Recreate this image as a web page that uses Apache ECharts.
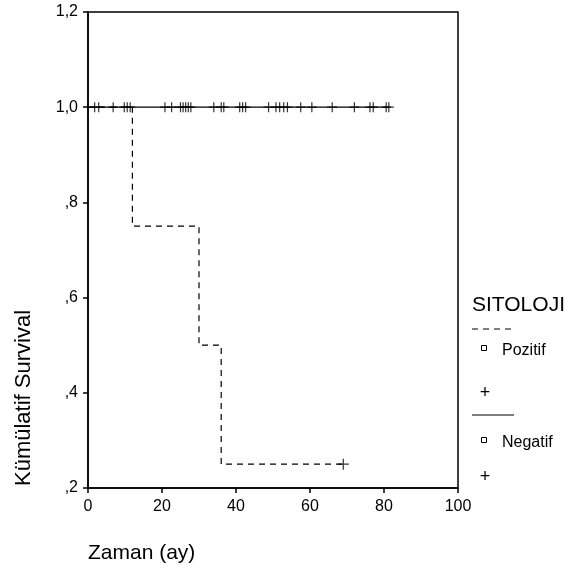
<!DOCTYPE html>
<html><head><meta charset="utf-8">
<script src="https://cdn.jsdelivr.net/npm/echarts@6/dist/echarts.min.js"></script>
<style>html,body{margin:0;padding:0;background:#fff}#c{width:581px;height:576px}</style>
</head><body><div id="c"></div>
<script>
const xTicks = [0, 20, 40, 60, 80, 100];
const yTicks = [0.2, 0.4, 0.6, 0.8, 1.0, 1.2];
const yTickLabels = [',2', ',4', ',6', ',8', '1,0', '1,2'];
// Pozitif: Kaplan-Meier step curve
const pozTimes = [0, 12, 30, 36, 69];
const pozSurv = [1, 0.75, 0.5, 0.25, 0.25];
const pozCensorTimes = [69];
const pozCensorSurv = [0.25];
// Negatif: no events
const negTimes = [0, 81.3];
const negSurv = [1, 1];
const negCensorTimes = [1.8, 2.9, 6.8, 9.8, 10.6, 11.4, 20.8, 22.6, 25.0, 25.7, 26.4, 27.1, 27.8,
  34.0, 36.0, 36.7, 41.0, 41.8, 42.6, 48.8, 50.8, 51.8, 52.9, 53.9, 57.5, 60.5, 66.0, 72.0, 76.2, 77.1, 80.6, 81.3];
const legendTitle = 'SITOLOJI';
const groupNames = ['Pozitif', 'Negatif'];

const FONT = 'Liberation Sans, Arial, Helvetica, sans-serif';
const plus = 'path://M5,0L5,10M0,5L10,5';
const chart = echarts.init(document.getElementById('c'), null, {renderer: 'canvas'});
const zip = (a, b) => a.map((v, i) => [v, b[i]]);
const L = 472, R = 514;
chart.setOption({
  animation: false,
  backgroundColor: '#fff',
  grid: {left: 88, top: 12, right: 123, bottom: 88, show: true, borderColor: '#000', borderWidth: 1.5, backgroundColor: 'transparent'},
  xAxis: {
    type: 'value', min: xTicks[0], max: xTicks[xTicks.length - 1], interval: 20,
    axisLine: {lineStyle: {color: '#000', width: 1.5}},
    axisTick: {show: true, length: 5, lineStyle: {color: '#000', width: 1.5}},
    axisLabel: {color: '#000', fontFamily: FONT, fontSize: 16, margin: 11},
    splitLine: {show: false}
  },
  yAxis: {
    type: 'value', min: 0.2, max: 1.2, interval: 0.2,
    axisLine: {lineStyle: {color: '#000', width: 1.5}},
    axisTick: {show: true, length: 5, lineStyle: {color: '#000', width: 1.5}},
    axisLabel: {color: '#000', fontFamily: FONT, fontSize: 16, margin: 10,
      formatter: v => { const i = yTicks.findIndex(t => Math.abs(t - v) < 1e-6); return i >= 0 ? yTickLabels[i] : ''; }},
    splitLine: {show: false}
  },
  series: [
    {type: 'line', name: groupNames[0], step: 'end', data: zip(pozTimes, pozSurv), symbol: 'none',
      lineStyle: {color: '#000', width: 1.2, type: [6, 5]}, z: 2},
    {type: 'line', name: groupNames[1], step: 'end', data: zip(negTimes, negSurv), symbol: 'none',
      lineStyle: {color: '#000', width: 1.2}, z: 3},
    {type: 'scatter', data: zip(pozCensorTimes, pozCensorSurv), symbol: plus, symbolSize: 11,
      itemStyle: {color: 'none', borderColor: '#000', borderWidth: 1.2}, z: 4},
    {type: 'scatter', data: negCensorTimes.map(t => [t, 1]), symbol: plus, symbolSize: 10,
      itemStyle: {color: 'none', borderColor: '#000', borderWidth: 1.2}, z: 4}
  ],
  graphic: [
    {type: 'text', x: 24, y: 398, rotation: Math.PI / 2, style: {text: 'Kümülatif Survival', font: '22px ' + FONT, fill: '#000', textAlign: 'center', textVerticalAlign: 'middle'}},
    {type: 'text', x: 88, y: 553, style: {text: 'Zaman (ay)', font: '21px ' + FONT, fill: '#000', textAlign: 'left', textVerticalAlign: 'middle'}},
    {type: 'text', x: 472, y: 305, style: {text: legendTitle, font: '21px ' + FONT, fill: '#000', textAlign: 'left', textVerticalAlign: 'middle'}},
    {type: 'line', shape: {x1: L, y1: 329, x2: R, y2: 329}, style: {stroke: '#000', lineWidth: 1.2, lineDash: [6, 5]}},
    {type: 'rect', shape: {x: 481.5, y: 345.5, width: 5, height: 5}, style: {fill: 'none', stroke: '#000', lineWidth: 1}},
    {type: 'text', x: 502, y: 351, style: {text: groupNames[0], font: '16px ' + FONT, fill: '#000', textAlign: 'left', textVerticalAlign: 'middle'}},
    {type: 'text', x: 485, y: 393, style: {text: '+', font: '18px ' + FONT, fill: '#000', textAlign: 'center', textVerticalAlign: 'middle'}},
    {type: 'line', shape: {x1: L, y1: 415, x2: R, y2: 415}, style: {stroke: '#000', lineWidth: 1.2}},
    {type: 'rect', shape: {x: 481.5, y: 437.5, width: 5, height: 5}, style: {fill: 'none', stroke: '#000', lineWidth: 1}},
    {type: 'text', x: 502, y: 443, style: {text: groupNames[1], font: '16px ' + FONT, fill: '#000', textAlign: 'left', textVerticalAlign: 'middle'}},
    {type: 'text', x: 485, y: 477, style: {text: '+', font: '18px ' + FONT, fill: '#000', textAlign: 'center', textVerticalAlign: 'middle'}}
  ]
});
</script></body></html>
